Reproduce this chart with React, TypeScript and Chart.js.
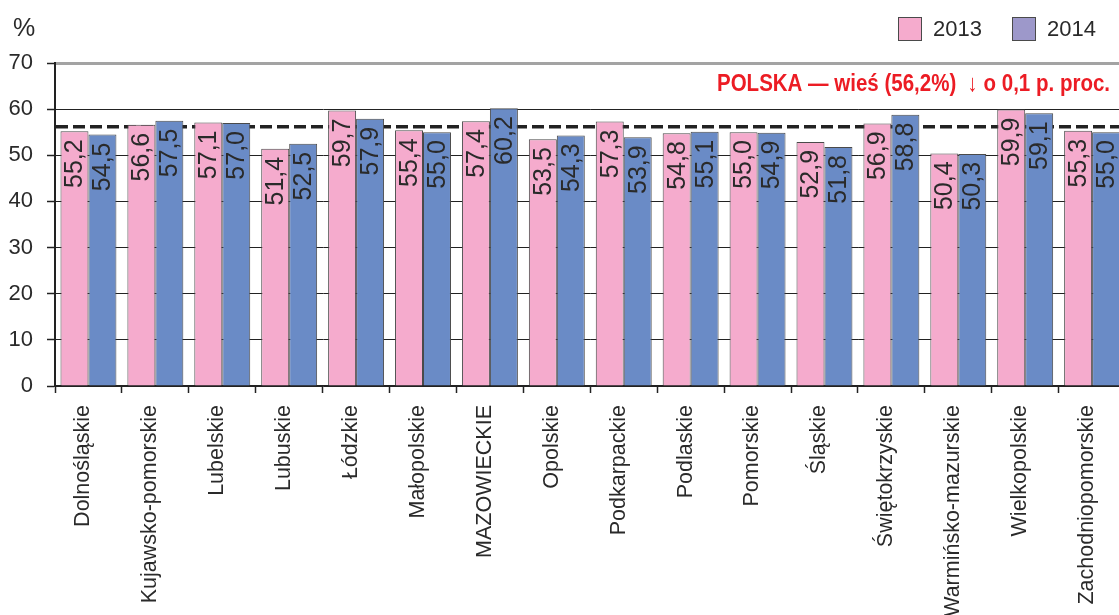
import React, { useEffect, useRef } from "react";
import { Chart, registerables } from "chart.js";

Chart.register(...registerables);

const categories = [
  "Dolnośląskie",
  "Kujawsko-pomorskie",
  "Lubelskie",
  "Lubuskie",
  "Łódzkie",
  "Małopolskie",
  "MAZOWIECKIE",
  "Opolskie",
  "Podkarpackie",
  "Podlaskie",
  "Pomorskie",
  "Śląskie",
  "Świętokrzyskie",
  "Warmińsko-mazurskie",
  "Wielkopolskie",
  "Zachodniopomorskie",
];
const values2013 = [55.2, 56.6, 57.1, 51.4, 59.7, 55.4, 57.4, 53.5, 57.3, 54.8, 55.0, 52.9, 56.9, 50.4, 59.9, 55.3];
const values2014 = [54.5, 57.5, 57.0, 52.5, 57.9, 55.0, 60.2, 54.3, 53.9, 55.1, 54.9, 51.8, 58.8, 50.3, 59.1, 55.0];
const seriesNames = ["2013", "2014"];
const yTicks = [0, 10, 20, 30, 40, 50, 60, 70];
const polskaValue = 56.2;
const polskaText = "POLSKA — wieś (56,2%)  ↓ o 0,1 p. proc.";

const FONT = "'Liberation Sans Narrow', 'Liberation Sans', Arial, sans-serif";
const PINK = "#f5abcd";
const BLUE = "#6a8bc6";
const LEGEND_BLUE = "#9d98ca";
const BORDER = "#4a4a4a";
const TEXT = "#2a2a2a";

const fmt = (v: number) => v.toFixed(1).replace(".", ",");

const decorPlugin = {
  id: "decor",
  beforeDatasetsDraw(chart: any) {
    const { ctx, chartArea, scales } = chart;
    const y = scales.y.getPixelForValue(polskaValue);
    ctx.save();
    ctx.strokeStyle = "#222";
    ctx.lineWidth = 3.5;
    ctx.setLineDash([12, 5]);
    ctx.beginPath();
    ctx.moveTo(chartArea.left + 1, y);
    ctx.lineTo(chartArea.right, y);
    ctx.stroke();
    ctx.restore();

    // red annotation text
    ctx.save();
    ctx.font = `bold 24px ${FONT}`;
    ctx.fillStyle = "#ec1c24";
    ctx.textBaseline = "middle";
    ctx.textAlign = "left";
    const targetW = 393;
    const w = ctx.measureText(polskaText).width;
    const sx = targetW / w;
    ctx.translate(717, 84);
    ctx.scale(sx, 1);
    ctx.fillText(polskaText, 0, 0);
    ctx.restore();
  },
  afterDatasetsDraw(chart: any) {
    const { ctx } = chart;
    ctx.save();
    ctx.font = `25px ${FONT}`;
    ctx.fillStyle = TEXT;
    ctx.textAlign = "right";
    ctx.textBaseline = "middle";
    chart.data.datasets.forEach((ds: any, di: number) => {
      const meta = chart.getDatasetMeta(di);
      meta.data.forEach((bar: any, i: number) => {
        ctx.save();
        ctx.translate(bar.x + 1, bar.y + 8);
        ctx.rotate(-Math.PI / 2);
        ctx.fillText(fmt(ds.data[i]), 0, 0);
        ctx.restore();
      });
    });
    ctx.restore();

    // "%" unit label
    ctx.save();
    ctx.font = `25px ${FONT}`;
    ctx.fillStyle = TEXT;
    ctx.textBaseline = "middle";
    ctx.textAlign = "left";
    ctx.fillText("%", 13, 29);
    ctx.restore();

    // legend
    ctx.save();
    ctx.font = `22px ${FONT}`;
    ctx.textBaseline = "middle";
    ctx.textAlign = "left";
    const items = [
      { name: seriesNames[0], color: PINK, x: 898 },
      { name: seriesNames[1], color: LEGEND_BLUE, x: 1012 },
    ];
    items.forEach((it) => {
      ctx.fillStyle = it.color;
      ctx.fillRect(it.x, 17, 23, 23);
      ctx.strokeStyle = BORDER;
      ctx.lineWidth = 1;
      ctx.strokeRect(it.x + 0.5, 17.5, 23, 23);
      ctx.fillStyle = TEXT;
      ctx.fillText(it.name, it.x + 35, 30);
    });
    ctx.restore();
  },
};

export default function App() {
  const ref = useRef<HTMLCanvasElement>(null);
  useEffect(() => {
    if (!ref.current) return;
    const chart = new Chart(ref.current, {
      type: "bar",
      data: {
        labels: categories,
        datasets: [
          {
            label: seriesNames[0],
            data: values2013,
            backgroundColor: PINK,
            borderColor: BORDER,
            borderWidth: 1,
            categoryPercentage: 0.836,
            barPercentage: 1,
          },
          {
            label: seriesNames[1],
            data: values2014,
            backgroundColor: BLUE,
            borderColor: BORDER,
            borderWidth: 1,
            categoryPercentage: 0.836,
            barPercentage: 1,
          },
        ],
      },
      options: {
        animation: false,
        responsive: true,
        maintainAspectRatio: false,
        layout: { padding: { top: 63, right: 3, left: 0, bottom: 0 } },
        plugins: {
          legend: { display: false },
          tooltip: { enabled: false },
        },
        scales: {
          x: {
            offset: true,
            grid: {
              offset: true,
              drawOnChartArea: false,
              drawTicks: true,
              tickLength: 7,
              tickColor: "#222",
              tickWidth: 1.5,
            },
            border: { display: true, color: "#222", width: 1.5 },
            ticks: {
              autoSkip: false,
              minRotation: 90,
              maxRotation: 90,
              padding: 12,
              labelOffset: -5,
              color: TEXT,
              font: { family: FONT, size: 21.5 },
            },
            afterFit(scale: any) {
              scale.height = 229;
            },
          },
          y: {
            min: 0,
            max: 70,
            afterBuildTicks(scale: any) {
              scale.ticks = yTicks.map((v) => ({ value: v }));
            },
            grid: {
              color: (c: any) => (c.tick && c.tick.value === 70 ? "#a3a3a3" : "#222"),
              lineWidth: (c: any) => (c.tick && c.tick.value === 70 ? 3 : 1),
              tickLength: 8,
              tickColor: "#222",
              tickWidth: 1.5,
            },
            border: { display: true, color: "#222", width: 2 },
            ticks: {
              padding: 14,
              color: TEXT,
              font: { family: FONT, size: 22 },
              callback: (v: any) => String(v),
            },
            afterFit(scale: any) {
              scale.width = 55;
            },
          },
        },
      },
      plugins: [decorPlugin],
    });
    return () => chart.destroy();
  }, []);
  return (
    <div
      style={{
        position: "fixed",
        left: 0,
        top: 0,
        width: 1130,
        height: 615,
        background: "#fff",
      }}
    >
      <canvas ref={ref} />
    </div>
  );
}
